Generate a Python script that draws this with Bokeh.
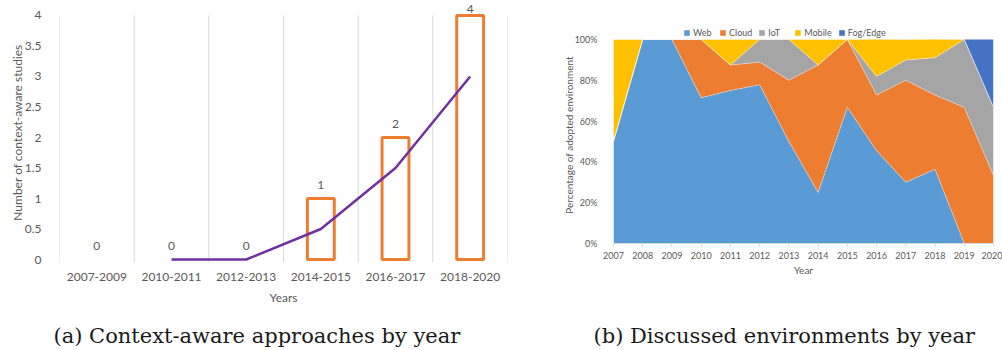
from bokeh.plotting import figure
from bokeh.models import (ColumnDataSource, FixedTicker, Range1d, NumeralTickFormatter,
                          LabelSet, Label, Legend, LegendItem)
from bokeh.core.properties import value
from bokeh.transform import stack
from bokeh.layouts import row, column
from bokeh.embed import file_html
from bokeh.resources import INLINE

# ---- panel (a): context-aware studies per period ----
periods = ["2007-2009", "2010-2011", "2012-2013", "2014-2015", "2016-2017", "2018-2020"]
studies = [0, 0, 0, 1, 2, 4]
trend_periods = ["2010-2011", "2012-2013", "2014-2015", "2016-2017", "2018-2020"]
trend = [0, 0, 0.5, 1.5, 3]  # two-period moving average
count_ticks = [0, 0.5, 1, 1.5, 2, 2.5, 3, 3.5, 4]

# ---- panel (b): share of environments per year ----
years = list(range(2007, 2021))
web = [0.50, 1.00, 1.00, 0.714, 0.75, 0.778, 0.50, 0.25, 0.667, 0.455, 0.30, 0.364, 0.0, 0.0]
cloud = [0.0, 0.0, 0.0, 0.286, 0.125, 0.111, 0.30, 0.625, 0.333, 0.273, 0.50, 0.364, 0.667, 0.333]
iot = [0.0, 0.0, 0.0, 0.0, 0.0, 0.111, 0.20, 0.0, 0.0, 0.091, 0.10, 0.182, 0.333, 0.334]
mobile = [0.50, 0.0, 0.0, 0.0, 0.125, 0.0, 0.0, 0.125, 0.0, 0.182, 0.10, 0.091, 0.0, 0.0]
fog_edge = [0.0, 0.0, 0.0, 0.0, 0.0, 0.0, 0.0, 0.0, 0.0, 0.0, 0.0, 0.0, 0.0, 0.333]
env_labels = ["Web", "Cloud", "IoT", "Mobile", "Fog/Edge"]
share_ticks = [0, 0.2, 0.4, 0.6, 0.8, 1.0]

captions = ["(a) Context-aware approaches by year", "(b) Discussed environments by year"]

TEXT = "#595959"
GRID = "#D9D9D9"
ORANGE = "#ED7D31"
PURPLE = "#7030A0"
FONT = "Lato"
SERIF = "DejaVu Serif"
CAPTION = "#1a1a1a"
CHART_H = 310

# ================= panel (a) =================
y_lo, y_hi = -0.049, count_ticks[-1] + 0.213
pa = figure(width=540, height=CHART_H, output_backend="svg", toolbar_location=None,
            x_range=Range1d(0, len(periods)), y_range=Range1d(y_lo, y_hi),
            min_border_left=59, min_border_right=33, min_border_top=2, min_border_bottom=48)
pa.frame_align = False
pa.outline_line_color = None

# category separators, spanning the value axis from its base to its last tick
bounds = list(range(len(periods) + 1))
pa.segment(x0=bounds, x1=bounds, y0=[y_lo] * len(bounds), y1=[count_ticks[-1]] * len(bounds),
           line_color=GRID, line_width=1)

pos = {name: i + 0.5 for i, name in enumerate(periods)}
bar_src = ColumnDataSource(dict(
    x=[pos[n] for n in periods],
    top=studies,
    text=[str(v) for v in studies],
    line=[ORANGE if v > 0 else None for v in studies],
    yoff=[10 if v < count_ticks[-1] else 2 for v in studies],
))
pa.vbar(x="x", top="top", bottom=0, width=0.36, source=bar_src,
        fill_color="white", line_color="line", line_width=3)
pa.line([pos[n] for n in trend_periods], trend, line_color=PURPLE, line_width=2.5)

pa.add_layout(LabelSet(x="x", y="top", text="text", source=bar_src, y_offset="yoff",
                       text_align="center", text_baseline="bottom",
                       text_font=value(FONT), text_font_size=value("12px"), text_color=TEXT))

pa.xgrid.grid_line_color = None
pa.ygrid.grid_line_color = None

pa.xaxis.ticker = FixedTicker(ticks=[pos[n] for n in periods])
pa.xaxis.major_label_overrides = {pos[n]: n for n in periods}
pa.yaxis.ticker = FixedTicker(ticks=count_ticks)
for ax in (pa.xaxis, pa.yaxis):
    ax.axis_line_color = None
    ax.major_tick_line_color = None
    ax.minor_tick_line_color = None
    ax.major_label_text_font = FONT
    ax.major_label_text_font_size = "12px"
    ax.major_label_text_color = TEXT
    ax.axis_label_text_font = FONT
    ax.axis_label_text_font_size = "12px"
    ax.axis_label_text_color = TEXT
    ax.axis_label_text_font_style = "normal"
pa.xaxis.axis_label = "Years"
pa.yaxis.axis_label = "Number of context-aware studies"
pa.xaxis.major_label_standoff = 4
pa.xaxis.axis_label_standoff = 6
pa.yaxis.major_label_standoff = 12
pa.yaxis.axis_label_standoff = -3

# ================= panel (b) =================
pb = figure(width=462, height=CHART_H, output_backend="svg", toolbar_location=None,
            x_range=Range1d(years[0], years[-1]), y_range=Range1d(0, 217 / 204),
            min_border_left=73, min_border_right=9, min_border_top=26, min_border_bottom=67)
pb.frame_align = False
pb.outline_line_color = None

src = ColumnDataSource(dict(year=years, Web=web, Cloud=cloud, IoT=iot,
                            Mobile=mobile, FogEdge=fog_edge))
cols = ["Web", "Cloud", "IoT", "Mobile", "FogEdge"]
colors = ["#5B9BD5", "#ED7D31", "#A5A5A5", "#FFC000", "#4472C4"]
areas = pb.varea_stack(stackers=cols, x="year", color=colors, source=src)
for i in range(len(cols) - 1):
    pb.line(x="year", y=stack(*cols[:i + 1]), source=src,
            line_color="white", line_width=0.7, line_alpha=0.55)

legend = Legend(items=[LegendItem(label=l, renderers=[r]) for l, r in zip(env_labels, areas)],
                orientation="horizontal", location=(70, 205),
                border_line_color=None, background_fill_alpha=0,
                padding=0, margin=0, spacing=6, glyph_width=7, glyph_height=7,
                label_standoff=3, label_height=9,
                label_text_font=FONT, label_text_font_size="9px", label_text_color=TEXT)
pb.add_layout(legend, "center")

pb.xgrid.grid_line_color = None
pb.ygrid.grid_line_color = None
pb.xaxis.ticker = FixedTicker(ticks=years)
pb.yaxis.ticker = FixedTicker(ticks=share_ticks)
pb.yaxis.formatter = NumeralTickFormatter(format="0%")
for ax in (pb.xaxis, pb.yaxis):
    ax.minor_tick_line_color = None
    ax.major_label_text_font = FONT
    ax.major_label_text_font_size = "9px"
    ax.major_label_text_color = TEXT
    ax.axis_label_text_font = FONT
    ax.axis_label_text_font_size = "10px"
    ax.axis_label_text_color = TEXT
    ax.axis_label_text_font_style = "normal"
pb.xaxis.axis_line_color = GRID
pb.xaxis.major_tick_line_color = GRID
pb.xaxis.major_tick_out = 3
pb.xaxis.major_tick_in = 0
pb.xaxis.major_label_standoff = 5
pb.xaxis.axis_label_standoff = 2
pb.yaxis.axis_line_color = None
pb.yaxis.major_tick_line_color = None
pb.yaxis.major_label_standoff = 10
pb.yaxis.axis_label_standoff = -3
pb.xaxis.axis_label = "Year"
pb.yaxis.axis_label = "Percentage of adopted environment"

# ================= captions strip =================
cap = figure(width=1002, height=350 - CHART_H, output_backend="svg", toolbar_location=None,
             x_range=Range1d(0, 1), y_range=Range1d(0, 1),
             x_axis_type=None, y_axis_type=None, min_border=0)
cap.frame_align = False
cap.outline_line_color = None
cap.xgrid.grid_line_color = None
cap.ygrid.grid_line_color = None
for text, left in zip(captions, (53, 593)):
    cap.add_layout(Label(x=left, y=15, x_units="screen", y_units="screen", text=text,
                         text_align="left", text_baseline="alphabetic",
                         text_font=SERIF, text_font_size="21px", text_color=CAPTION))

layout = column(row(pa, pb), cap)
open("out.html", "w").write(file_html(layout, INLINE))
